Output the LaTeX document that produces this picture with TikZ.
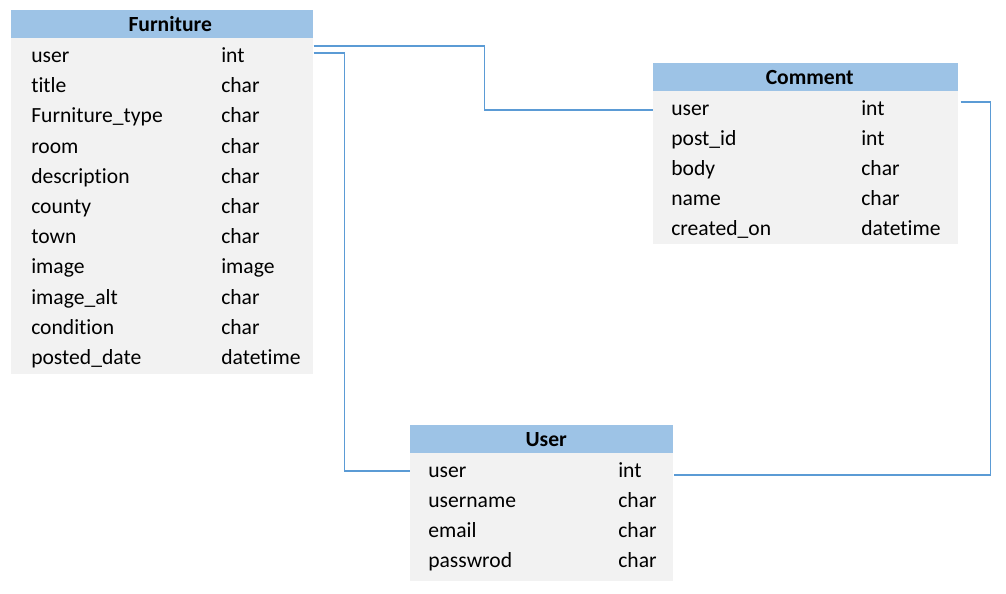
\documentclass[tikz,border=0pt]{standalone}
\usepackage{fontspec}
\setmainfont{Carlito}[Ligatures={NoCommon}]
\definecolor{hdrblue}{RGB}{157,195,230}
\definecolor{bodygray}{RGB}{242,242,242}
\definecolor{linkblue}{RGB}{91,155,213}
\tikzset{
  hdr/.style={fill=hdrblue, inner sep=0pt, anchor=north west, font=\fontsize{16.2}{19}\selectfont\bfseries},
  tbody/.style={fill=bodygray, inner sep=0pt, anchor=north west},
  fld/.style={anchor=base west, inner sep=0pt},
  link/.style={draw=linkblue, line width=0.9pt}
}
\begin{document}
\begin{tikzpicture}[x=0.75pt, y=-0.75pt, font=\fontsize{16.2}{19}\selectfont]
\fill[white] (0,0) rectangle (1006,593);
\useasboundingbox (0,0) rectangle (1006,593);

% Furniture table
\node[hdr, minimum width=226.5pt, minimum height=21pt] (Fh) at (11,10) {\hspace*{12pt}Furniture};
\node[tbody, minimum width=226.5pt, minimum height=252pt] (F) at (11,38) {};
\foreach \a/\b [count=\i from 0] in {user/int, title/char, Furniture\_type/char, room/char,
  description/char, county/char, town/char, image/image, image\_alt/char,
  condition/char, posted\_date/datetime}{
  \node[fld] (F-n\i) at (31, 62.5+30.2*\i) {\a};
  \node[fld] (F-t\i) at (221, 62.5+30.2*\i) {\b};
}

% Comment table
\node[hdr, minimum width=228.75pt, minimum height=21pt] (Ch) at (653,63) {\hspace*{6pt}Comment};
\node[tbody, minimum width=228.75pt, minimum height=114.75pt] (C) at (653,91) {};
\foreach \a/\b [count=\i from 0] in {user/int, post\_id/int, body/char, name/char,
  created\_on/datetime}{
  \node[fld] (C-n\i) at (671, 115+30.2*\i) {\a};
  \node[fld] (C-t\i) at (861, 115+30.2*\i) {\b};
}

% User table
\node[hdr, minimum width=197.25pt, minimum height=21pt] (Uh) at (410,425) {\hspace*{6.75pt}User};
\node[tbody, minimum width=197.25pt, minimum height=96pt] (U) at (410,453) {};
\foreach \a/\b [count=\i from 0] in {user/int, username/char, email/char, passwrod/char}{
  \node[fld] (U-n\i) at (428, 477.3+30*\i) {\a};
  \node[fld] (U-t\i) at (618, 477.3+30*\i) {\b};
}

% Relations
\draw[link] ([yshift=-6pt]F.north east) -- ++(171,0) |- ([yshift=-14.25pt]C.north west);
\draw[link] ([yshift=-11.25pt]F.north east) -- ++(31,0) |- ([yshift=-13.5pt]U.north west);
\draw[link] ([xshift=1.5pt,yshift=-8.25pt]C.north east) -- ++(30,0) |- ([yshift=-16.5pt]U.north east);
\end{tikzpicture}
\end{document}
